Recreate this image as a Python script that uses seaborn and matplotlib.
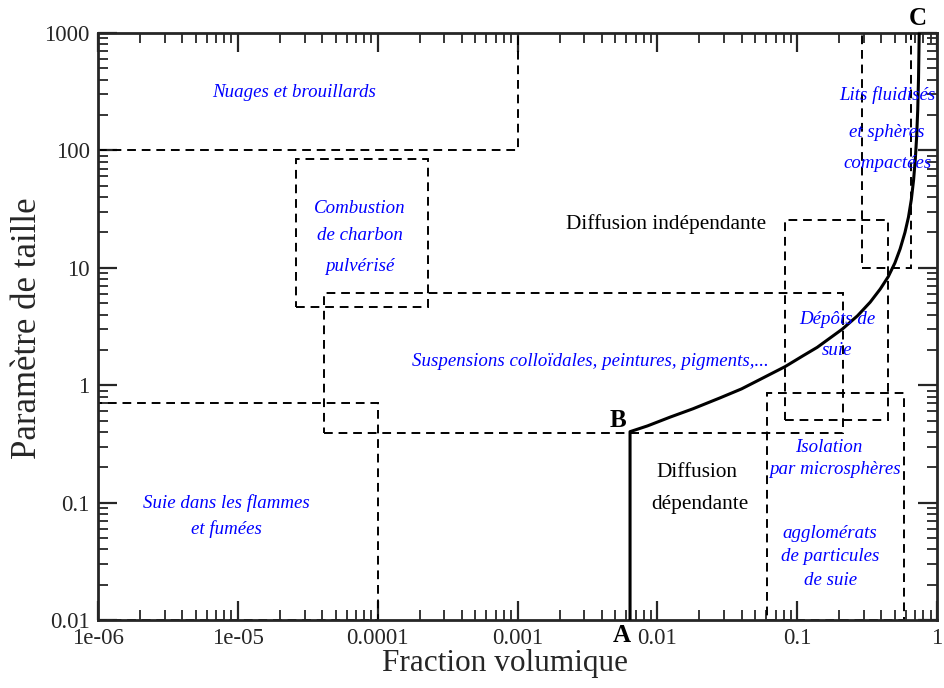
import numpy as np
import pandas as pd
import matplotlib
matplotlib.use("Agg")
import matplotlib.pyplot as plt
from matplotlib.patches import Rectangle
from matplotlib.ticker import LogLocator, FixedLocator, NullFormatter
import seaborn as sns

# ---- data ----
# boundary curve A-B-C
curve_fv = [0.00638, 0.00638, 0.0085, 0.01236, 0.018, 0.0281, 0.04, 0.0543, 0.082, 0.11,
            0.139, 0.17, 0.21, 0.27, 0.333, 0.393, 0.448, 0.5, 0.545, 0.59, 0.625,
            0.655, 0.68, 0.70, 0.715, 0.728, 0.738, 0.746]
curve_x = [0.01, 0.402, 0.45, 0.535, 0.63, 0.78, 0.93, 1.12, 1.44, 1.78,
           2.1, 2.5, 3.0, 3.9, 5.1, 6.6, 8.4, 11.0, 14.5, 20.0, 27.0,
           38.0, 56.0, 85.0, 130.0, 220.0, 420.0, 1000.0]

# regions: (fv_min, fv_max, x_min, x_max)
region_names = ["Nuages", "Combustion", "Suspensions", "Suie", "Lits", "Depots", "Isolation"]
region_fv_min = [1e-6, 2.6e-5, 4.1e-5, 1e-6, 0.29, 0.082, 0.061]
region_fv_max = [1e-3, 2.3e-4, 0.214, 1e-4, 0.65, 0.448, 0.58]
region_x_min = [100, 4.6, 0.39, 0.01, 10, 0.505, 0.01]
region_x_max = [1000, 84.5, 6.1, 0.7, 1000, 25.5, 0.86]

# blue labels: text, fv, x
blue_texts = ["Nuages et brouillards", "Combustion", "de charbon", "pulvérisé",
              "Suspensions colloïdales, peintures, pigments,...",
              "Dépôts de", "suie", "Lits fluidisés", "et sphères", "compactées",
              "Isolation", "par microsphères", "agglomérats", "de particules", "de suie",
              "Suie dans les flammes", "et fumées"]
blue_fv = [2.52e-5, 7.5e-5, 7.5e-5, 7.5e-5, 0.0033, 0.193, 0.193, 0.44, 0.44, 0.44,
           0.167, 0.187, 0.172, 0.172, 0.172, 8.24e-6, 8.24e-6]
blue_x = [314, 32.3, 18.7, 10.2, 1.58, 3.66, 1.96, 296, 141, 76.6, 0.292, 0.19,
          0.055, 0.035, 0.0215, 0.0993, 0.0596]

black_texts = ["Diffusion indépendante", "Diffusion", "dépendante"]
black_fv = [0.01156, 0.0193, 0.0202]
black_x = [23.6, 0.179, 0.0955]

point_labels = ["A", "B", "C"]
point_fv = [0.0056, 0.00525, 0.734]
point_x = [0.00745, 0.496, 1330]

xticks = [1e-6, 1e-5, 1e-4, 1e-3, 1e-2, 1e-1, 1]
xticklabels = ["1e-06", "1e-05", "0.0001", "0.001", "0.01", "0.1", "1"]
yticks = [0.01, 0.1, 1, 10, 100, 1000]
yticklabels = ["0.01", "0.1", "1", "10", "100", "1000"]

# ---- plot ----
sns.set_style("ticks")
plt.rcParams['font.family'] = ['Liberation Serif', 'DejaVu Serif']

fig = plt.figure(figsize=(9.44, 6.88), dpi=100)
ax = fig.add_axes([98/944, 1-620/688, (937-98)/944, (620-33)/688])
ax.set_xscale("log")
ax.set_yscale("log")
ax.set_xlim(1e-6, 1)
ax.set_ylim(0.01, 1000)

for x0, x1, y0, y1 in zip(region_fv_min, region_fv_max, region_x_min, region_x_max):
    ax.add_patch(Rectangle((x0, y0), x1 - x0, y1 - y0, fill=False,
                           edgecolor="black", lw=1.4, ls=(0, (4.5, 3)), zorder=2))

df = pd.DataFrame({"fv": curve_fv, "x": curve_x})
sns.lineplot(data=df, x="fv", y="x", sort=False, estimator=None, color="black",
             lw=2.2, ax=ax, zorder=3)

for t, xv, yv in zip(blue_texts, blue_fv, blue_x):
    ax.text(xv, yv, t, color="blue", style="italic", fontsize=13.6,
            ha="center", va="center", zorder=4)
for t, xv, yv in zip(black_texts, black_fv, black_x):
    ax.text(xv, yv, t, color="black", fontsize=15.3, ha="center", va="center", zorder=4)
for t, xv, yv in zip(point_labels, point_fv, point_x):
    ax.text(xv, yv, t, color="black", fontsize=18, fontweight="bold",
            ha="center", va="center", zorder=5, clip_on=False)

ax.xaxis.set_major_locator(FixedLocator(xticks))
ax.set_xticklabels(xticklabels)
ax.yaxis.set_major_locator(FixedLocator(yticks))
ax.set_yticklabels(yticklabels)
ax.xaxis.set_minor_locator(LogLocator(base=10, subs=np.arange(2, 10), numticks=20))
ax.yaxis.set_minor_locator(LogLocator(base=10, subs=np.arange(2, 10), numticks=20))
ax.xaxis.set_minor_formatter(NullFormatter())
ax.yaxis.set_minor_formatter(NullFormatter())
ax.tick_params(which="major", direction="in", length=14, width=1.6, top=True, right=True,
               labelsize=16.5, pad=6)
ax.tick_params(which="minor", direction="in", length=7, width=1.3, top=True, right=True)
for s in ax.spines.values():
    s.set_linewidth(2)
    s.set_visible(True)

ax.set_xlabel("Fraction volumique", fontsize=22.5)
ax.set_ylabel("Paramètre de taille", fontsize=25)
ax.xaxis.label.set_va("center")
ax.yaxis.label.set_va("center")
ax.xaxis.set_label_coords(0.485, -0.0733)
ax.yaxis.set_label_coords(-0.0846, 0.497)

fig.savefig("out.png", dpi=100)
